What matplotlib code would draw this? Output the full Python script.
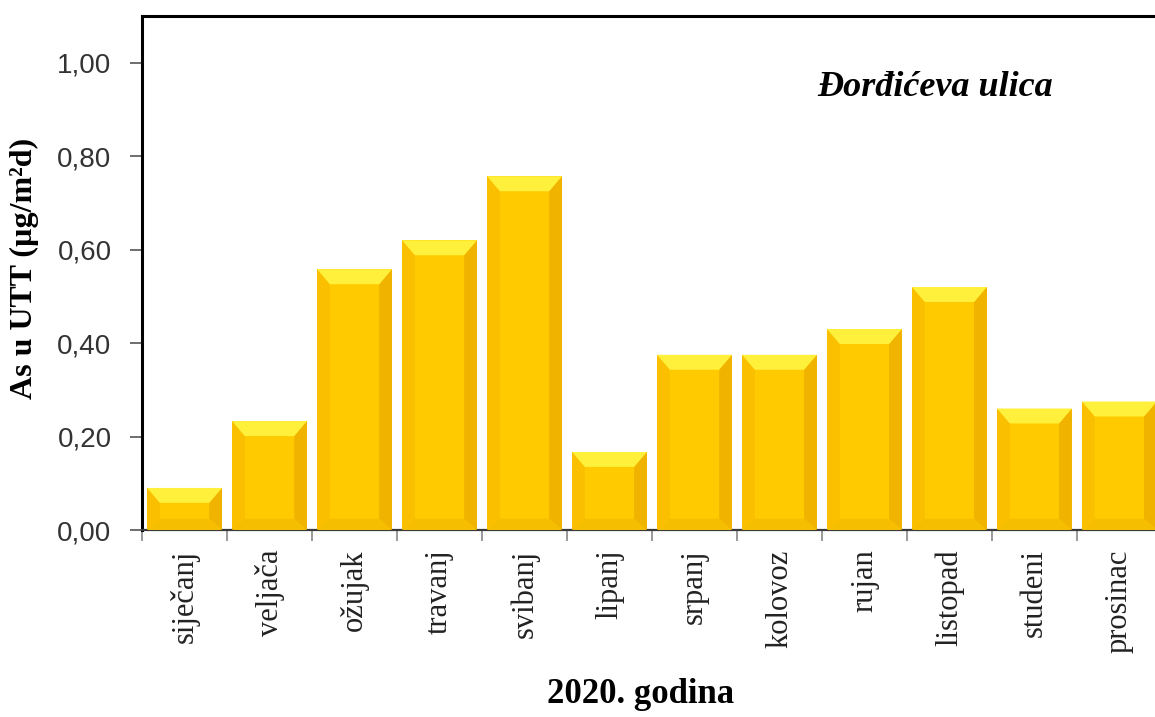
import matplotlib
matplotlib.use("Agg")
import matplotlib.pyplot as plt
from matplotlib.patches import Polygon

# data
months = ["siječanj", "veljača", "ožujak", "travanj", "svibanj", "lipanj",
          "srpanj", "kolovoz", "rujan", "listopad", "studeni", "prosinac"]
values = [0.09, 0.233, 0.558, 0.62, 0.757, 0.167,
          0.375, 0.375, 0.43, 0.52, 0.26, 0.275]
yticks = [0.0, 0.2, 0.4, 0.6, 0.8, 1.0]
ytick_labels = ["0,00", "0,20", "0,40", "0,60", "0,80", "1,00"]

fig = plt.figure(figsize=(11.55, 7.17), dpi=100)
ax = fig.add_axes([0.123, 0.2608, 0.883, 0.7169])

width = 0.88
x = list(range(len(months)))
bars = ax.bar(x, values, width=width, color="#FFCA00", edgecolor="none", zorder=2)

# bevel pieces (sizes in data units)
bx = 0.15
by_top = 0.032
by_bot = 0.024
for xi, v in zip(x, values):
    l, r = xi - width / 2, xi + width / 2
    # left side
    ax.add_patch(Polygon([(l, 0), (l + bx, by_bot), (l + bx, v - by_top), (l, v)],
                         closed=True, color="#FAC000", lw=0, zorder=3))
    # right side
    ax.add_patch(Polygon([(r, 0), (r - bx, by_bot), (r - bx, v - by_top), (r, v)],
                         closed=True, color="#EFB300", lw=0, zorder=3))
    # bottom
    ax.add_patch(Polygon([(l, 0), (r, 0), (r - bx, by_bot), (l + bx, by_bot)],
                         closed=True, color="#F6BE00", lw=0, zorder=3))
    # top
    ax.add_patch(Polygon([(l, v), (r, v), (r - bx, v - by_top), (l + bx, v - by_top)],
                         closed=True, color="#FFF03C", lw=0, zorder=3))

ax.set_xlim(-0.5, len(months) - 0.5)
ax.set_ylim(0, 1.10)

ax.set_yticks(yticks)
ax.set_yticklabels(ytick_labels, fontfamily="Liberation Sans", fontsize=20, color="#333333")
ax.tick_params(axis="y", length=9, width=1.2, color="#555555", pad=13)

ax.set_xticks([i - 0.5 for i in range(len(months) + 1)])
ax.set_xticklabels([])
ax.set_xticks(x, minor=True)
ax.set_xticklabels(months, minor=True, rotation=90, fontfamily="Liberation Serif",
                   fontsize=22, color="#222222")
ax.tick_params(axis="x", which="major", length=8, width=1.2, color="#888888")
ax.tick_params(axis="x", which="minor", length=0, pad=14)

for side in ["top", "left"]:
    ax.spines[side].set_linewidth(2.2)
    ax.spines[side].set_color("black")
ax.spines["bottom"].set_linewidth(1.6)
ax.spines["bottom"].set_color("#3a3a3a")
ax.spines["right"].set_visible(False)

fig.text(0.021, 0.626, "As u UTT (µg/m²d)", rotation=90, ha="center",
         va="center", fontfamily="Liberation Serif", fontweight="bold", fontsize=23)
fig.text(0.555, 0.031, "2020. godina", ha="center", va="center",
         fontfamily="Liberation Serif", fontweight="bold", fontsize=25)
ax.text(0.662, 0.86, "Đorđićeva ulica", transform=ax.transAxes, ha="left", va="center",
        fontfamily="Liberation Serif", fontweight="bold", fontstyle="italic", fontsize=26)

fig.savefig("out.png", dpi=100)
